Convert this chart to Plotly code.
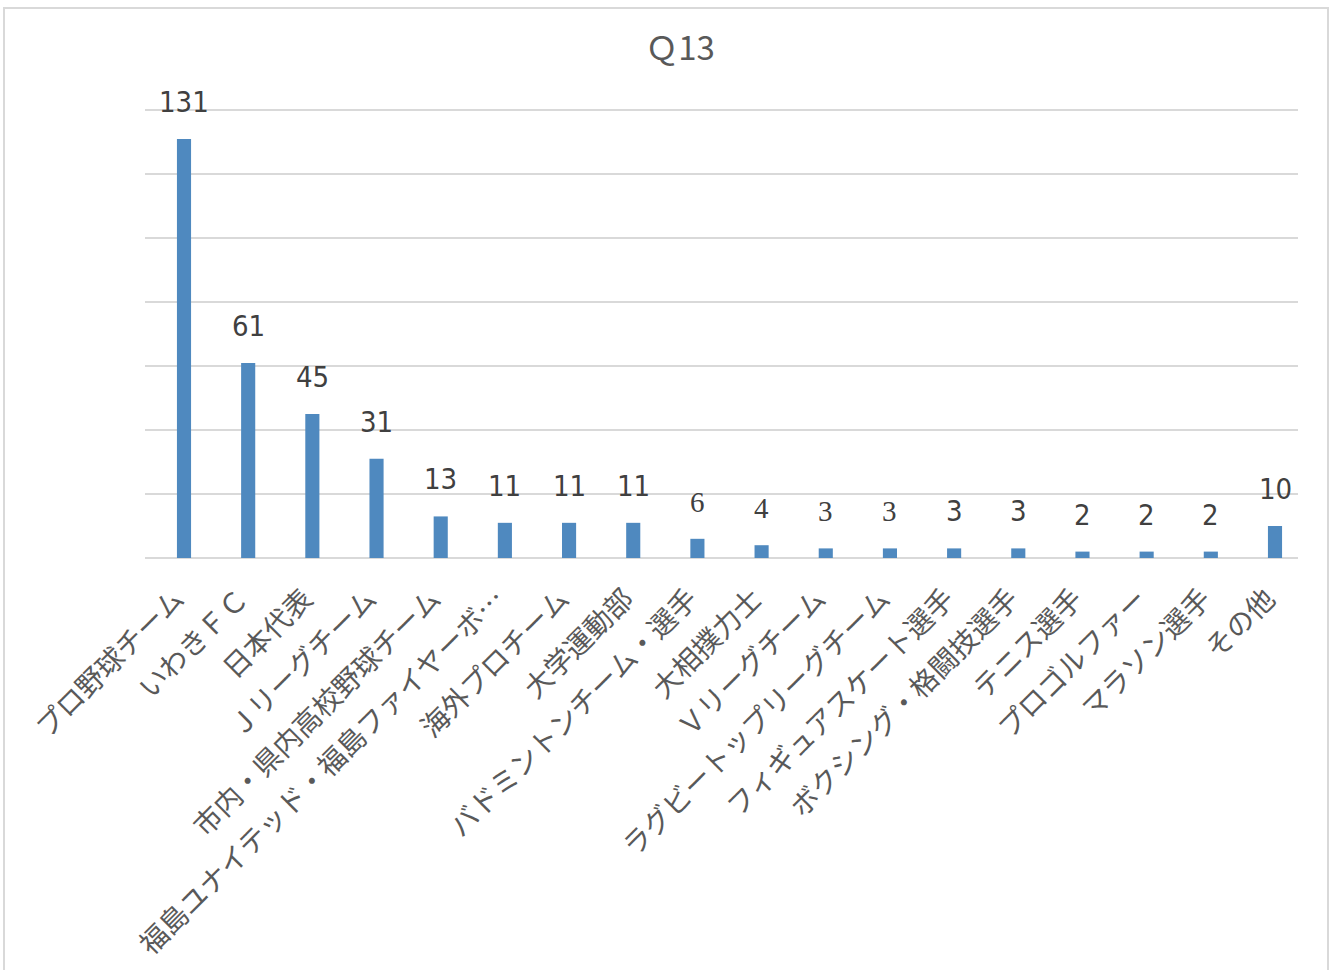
import plotly.graph_objects as go

categories = ["プロ野球チーム", "いわきＦＣ", "日本代表", "Ｊリーグチーム", "市内・県内高校野球チーム",
              "福島ユナイテッド・福島ファイヤーボ…", "海外プロチーム", "大学運動部", "バドミントンチーム・選手",
              "大相撲力士", "Ｖリーグチーム", "ラグビートップリーグチーム", "フィギュアスケート選手",
              "ボクシング・格闘技選手", "テニス選手", "プロゴルファー", "マラソン選手", "その他"]
values = [131, 61, 45, 31, 13, 11, 11, 11, 6, 4, 3, 3, 3, 3, 2, 2, 2, 10]

W, H = 1331, 970
L, R, T, B = 145, 33, 107, 412
pw, ph = W - L - R, H - T - B
ymax = 141

# category pixel layout: first bar centre at 184, last at 1275
step = (1275 - 184) / (len(categories) - 1)
x0 = -(184 - L) / step
x1 = (len(categories) - 1) + (W - R - 1275) / step

fig = go.Figure()
fig.add_trace(go.Bar(x=categories, y=values, marker=dict(color="#4f89bf", line=dict(width=0)),
                     width=0.22, hoverinfo="x+y"))

sans = "DejaVu Sans Condensed, Liberation Sans Narrow, Roboto Condensed, Roboto, Noto Sans CJK JP"
serif = "Liberation Serif, DejaVu Serif, serif"
for i, (c, v) in enumerate(zip(categories, values)):
    fam = serif if 8 <= i <= 11 else sans
    fig.add_annotation(x=c, y=v, text=str(v), showarrow=False, yshift=37, yanchor="middle",
                       font=dict(family=fam, size=29, color="#404040"))

# outer border
fig.add_shape(type="rect", xref="paper", yref="paper",
              x0=(4 - L) / pw, x1=(1328 - L) / pw,
              y0=(H - B - 975) / ph, y1=(H - B - 8) / ph,
              line=dict(color="#d9d9d9", width=2), fillcolor="rgba(0,0,0,0)", layer="below")

fig.update_layout(
    width=W, height=H,
    margin=dict(l=L, r=R, t=T, b=B, autoexpand=False),
    paper_bgcolor="white", plot_bgcolor="white",
    title=dict(text="Ｑ13", x=680 / W, xanchor="center", y=1 - 48 / H, yanchor="middle",
               font=dict(family="Noto Sans CJK JP", size=33, color="#595959")),
    showlegend=False,
    xaxis=dict(tickangle=-45, tickfont=dict(family="Noto Sans CJK JP", size=28, color="#595959"),
               showline=False, ticks="", showgrid=False, automargin=False,
               range=[x0, x1], ticklabelstandoff=18, ticklabelshift=-8),
    yaxis=dict(range=[0, ymax], tickvals=[0, 20, 40, 60, 80, 100, 120, 140], showticklabels=False,
               showgrid=True, gridcolor="#d9d9d9",
               gridwidth=1.5, zeroline=True, zerolinecolor="#d9d9d9", zerolinewidth=1.5, ticks="",
               automargin=False),
)

fig.write_html("out.html")
